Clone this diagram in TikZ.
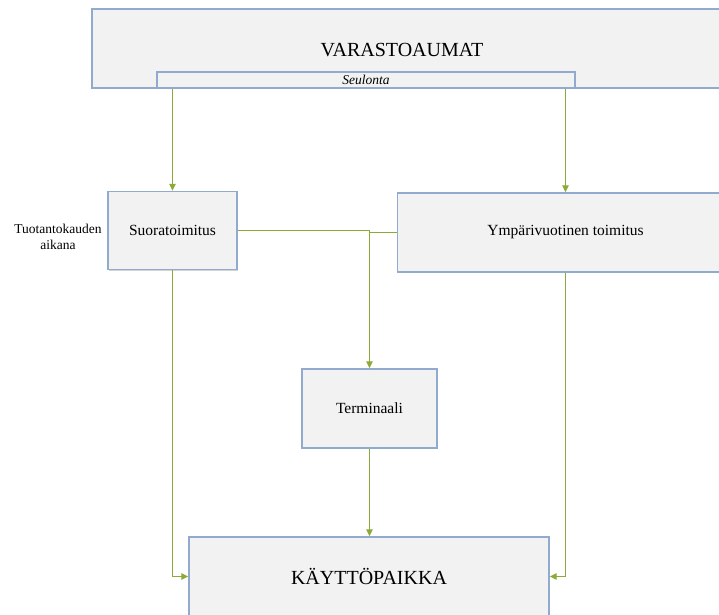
\documentclass[tikz,border=0pt]{standalone}
\usepackage{fontspec}
\setmainfont{Liberation Serif}
\usetikzlibrary{arrows.meta,shadows}
\definecolor{boxfill}{RGB}{242,242,242}
\definecolor{boxline}{RGB}{145,170,205}
\definecolor{conn}{RGB}{140,170,55}
\tikzset{
  box/.style={draw=boxline, fill=boxfill, line width=1.4pt, inner sep=0pt,
    drop shadow={shadow xshift=1pt, shadow yshift=-1pt, opacity=0.35, fill=gray}},
  gl/.style={draw=conn, line width=1.3pt},
  arr/.style={gl, -{Triangle[length=7pt,width=6.5pt]}},
}
\begin{document}
\begin{tikzpicture}[x=1pt,y=-1pt]
\useasboundingbox (0,0) rectangle (719,614);
% top box
\node[box, minimum width=640pt, minimum height=79pt] (top) at (412,48.5) {};
\node[font=\fontsize{20}{24}\selectfont, inner sep=0pt] (vartext) at (402,50.5) {VARASTOAUMAT};
\node[box, minimum width=418pt, minimum height=16pt, font=\fontsize{13.5}{15}\selectfont\itshape] (seul) at (366,80) {Seulonta};
% middle boxes
\node[box, minimum width=129pt, minimum height=78pt, font=\fontsize{15.5}{18}\selectfont] (suora) at (172.5,230.5) {Suoratoimitus};
\node[font=\fontsize{13.5}{16}\selectfont, align=center, inner sep=0pt] (tuot) at (58,237) {Tuotantokauden\\aikana};
\node[box, minimum width=336pt, minimum height=79pt, font=\fontsize{15.5}{18}\selectfont] (ymp) at (565.5,232.5) {Ympärivuotinen toimitus};
\node[box, minimum width=135pt, minimum height=79pt, font=\fontsize{15.5}{18}\selectfont] (term) at (369.5,408.5) {Terminaali};
\node[box, minimum width=360pt, minimum height=79pt, font=\fontsize{20}{24}\selectfont] (kayt) at (369,576.5) {KÄYTTÖPAIKKA};
% connectors
\draw[arr] (seul.south -| suora.north) -- (suora.north);
\draw[arr] (seul.south -| ymp.north) -- (ymp.north);
\coordinate (junc) at (suora.east -| term.north);
\draw[gl] (suora.east) -- (junc);
\draw[gl] (ymp.west) -- (ymp.west -| term.north);
\draw[arr] (junc) -- (term.north);
\draw[arr] (term.south) -- (term.south |- kayt.north);
\draw[arr] (suora.south) |- (kayt.west);
\draw[arr] (ymp.south) |- (kayt.east);
\end{tikzpicture}
\end{document}
